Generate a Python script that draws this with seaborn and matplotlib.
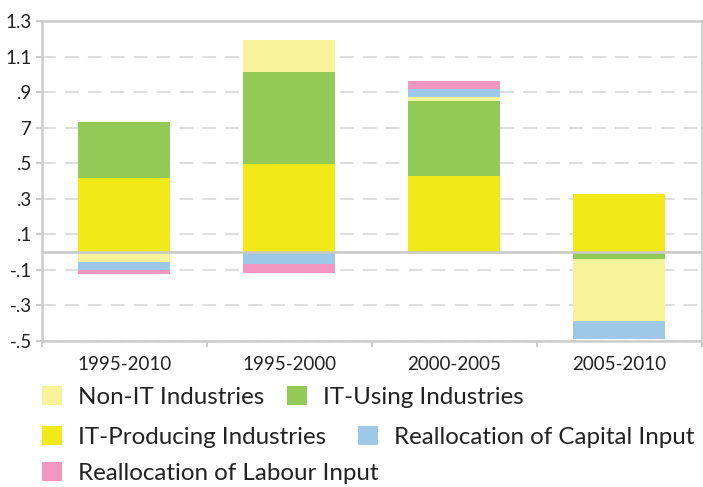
import matplotlib
matplotlib.use("Agg")
import matplotlib.pyplot as plt
import seaborn as sns
import numpy as np
import pandas as pd
from matplotlib.patches import Patch

# data
periods = ["1995-2010", "1995-2000", "2000-2005", "2005-2010"]
it_producing = [0.415, 0.493, 0.426, 0.327]
it_using = [0.318, 0.520, 0.425, -0.038]
non_it = [-0.056, 0.180, 0.022, -0.352]
realloc_capital = [-0.045, -0.068, 0.045, -0.100]
realloc_labour = [-0.020, -0.048, 0.045, 0.0]

y_ticks = [1.3, 1.1, 0.9, 0.7, 0.5, 0.3, 0.1, -0.1, -0.3, -0.5]
y_tick_labels = ["1.3", "1.1", ".9", "7", ".5", ".3", ".1", "-.1", "-.3", "-.5"]

series = [
    ("IT-Producing Industries", it_producing, "#f2ea18"),
    ("IT-Using Industries", it_using, "#93c956"),
    ("Non-IT Industries", non_it, "#f7f39b"),
    ("Reallocation of Capital Input", realloc_capital, "#9ec8e8"),
    ("Reallocation of Labour Input", realloc_labour, "#f298c0"),
]
colors = {name: c for name, _, c in series}

sns.set_style("white")
plt.rcParams['font.family'] = ['Lato', 'DejaVu Sans']

fig = plt.figure(figsize=(7.03, 4.87), dpi=100)
ax = fig.add_axes([41.7 / 703, 1 - 341 / 487, 660 / 703, 320 / 487])

# stacked bars: positives go up from zero, negatives go down
pos_base = np.zeros(len(periods))
neg_base = np.zeros(len(periods))
for name, vals, color in series:
    vals = np.array(vals)
    bottom = np.where(vals >= 0, pos_base, neg_base)
    df = pd.DataFrame({"period": periods, "value": vals})
    sns.barplot(data=df, x="period", y="value", order=periods, color=color,
                width=0.56, bottom=bottom, errorbar=None, saturation=1,
                linewidth=0, ax=ax, zorder=2)
    pos_base = pos_base + np.where(vals >= 0, vals, 0)
    neg_base = neg_base + np.where(vals < 0, vals, 0)

ax.set_ylim(-0.5, 1.3)
ax.set_xlim(-0.5, 3.5)
ax.set_xlabel("")
ax.set_ylabel("")

ax.set_yticks(y_ticks)
ax.set_yticklabels(y_tick_labels)
ax.set_xticks(range(len(periods)))
ax.set_xticklabels(periods)
ax.set_xticks(np.arange(-0.5, 3.6, 1), minor=True)

grey = "#cccccc"
ax.yaxis.grid(True, color="#d4d4d4", linewidth=1.1, linestyle=(0, (9, 6)), zorder=0)
ax.set_axisbelow(True)
ax.axhline(0, color="#c8c8c8", linewidth=1.8, zorder=3)

for sp in ax.spines.values():
    sp.set_visible(True)
    sp.set_color(grey)
    sp.set_linewidth(1.8)

ax.tick_params(axis="y", which="major", length=4, width=1.5, color=grey,
               labelsize=13.5, labelcolor="#222222", pad=3, left=True)
ax.tick_params(axis="x", which="major", length=0, labelsize=13.5,
               labelcolor="#222222", pad=11)
ax.tick_params(axis="x", which="minor", length=4, width=1.5, color=grey,
               bottom=True)

# legend laid out in rows like the reference
rows = [
    (["Non-IT Industries", "IT-Using Industries"], 1 - 397 / 487, 0.95),
    (["IT-Producing Industries", "Reallocation of Capital Input"], 1 - 437 / 487, 1.3),
    (["Reallocation of Labour Input"], 1 - 473 / 487, 1.0),
]
for labels, y, colsp in rows:
    handles = [Patch(facecolor=colors[l], edgecolor="none", label=l) for l in labels]
    leg = fig.legend(handles=handles, loc="center left", bbox_to_anchor=(42 / 703, y),
                     ncol=len(labels), frameon=False, fontsize=17.4,
                     handlelength=0.83, handleheight=0.83, handletextpad=0.66,
                     columnspacing=colsp, borderpad=0, borderaxespad=0)
    for t in leg.get_texts():
        t.set_color("#222222")

fig.savefig("out.png", dpi=100)
